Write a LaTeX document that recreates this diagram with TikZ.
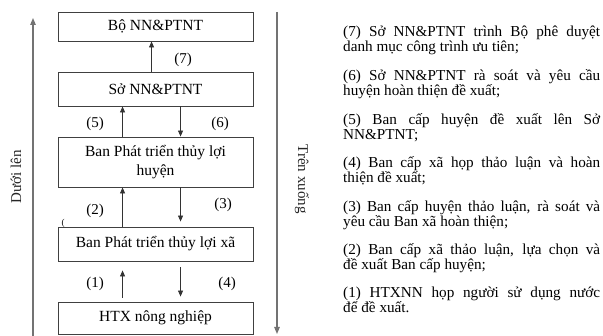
\documentclass[tikz,border=0pt]{standalone}
\usepackage{fontspec}
\setmainfont{Liberation Serif}
\usetikzlibrary{arrows.meta}
\begin{document}
\begin{tikzpicture}[x=1pt,y=-1pt,
  box/.style={draw=black!75, line width=0.9pt, minimum width=195pt, inner sep=0pt,
    font=\fontsize{15.5}{19.5}\selectfont, align=center},
  arr/.style={-{Triangle[length=6pt,width=5pt]}, line width=0.8pt, draw=black!80},
  lbl/.style={font=\fontsize{15}{18}\selectfont, inner sep=0pt},
  side/.style={draw=black!55, line width=1.1pt, -{Triangle[length=7pt,width=5.5pt]}},
  vlab/.style={font=\fontsize{15}{18}\selectfont, inner sep=0pt, text=black!85},
  para/.style={anchor=north west, text width=257pt, align=justify, inner sep=0pt,
    font=\fontsize{15.2}{15}\selectfont}]
\useasboundingbox (0,0) rectangle (603,336);

% boxes
\node[box, minimum height=29pt] (b1) at (155.5,26.5) {Bộ NN\&PTNT};
\node[box, minimum height=34pt] (b2) at (155.5,89) {Sở NN\&PTNT};
\node[box, minimum height=50pt] (b3) at (155.5,162) {Ban Phát triển thủy lợi\\huyện};
\node[box, minimum height=34pt] (b4) at (155.5,244) {Ban Phát triển thủy lợi xã};
\node[box, minimum height=32pt] (b5) at (155.5,318) {HTX nông nghiệp};

% connectors
\draw[arr] ([xshift=94pt]b2.north west) -- ([xshift=94pt]b1.south west);
\draw[arr] ([xshift=65pt]b3.north west) -- ([xshift=65pt]b2.south west);
\draw[arr] ([xshift=123pt]b2.south west) -- ([xshift=123pt]b3.north west);
\draw[arr] ([xshift=65pt]b4.north west) -- ([xshift=65pt]b3.south west);
\draw[arr, shorten >=5pt] ([xshift=123pt]b3.south west) -- ([xshift=123pt]b4.north west);
\draw[arr, shorten <=4pt, shorten >=9pt] ([xshift=65pt]b5.north west) -- ([xshift=65pt]b4.south west);
\draw[arr, shorten <=6pt, shorten >=5pt] ([xshift=123pt]b4.south west) -- ([xshift=123pt]b5.north west);

% step labels
\node[lbl] (l7) at (183,60) {(7)};
\node[lbl] (l5) at (95,124) {(5)};
\node[lbl] (l6) at (220,124) {(6)};
\node[lbl] (l2) at (95,211) {(2)};
\node[lbl] (l3) at (223,205) {(3)};
\node[lbl] (l1) at (95,284) {(1)};
\node[lbl] (l4) at (227,284) {(4)};
\node[font=\fontsize{9}{10}\selectfont, inner sep=0pt] (cur) at (63,223) {(};

% side arrows
\coordinate (lb) at (33,336);
\coordinate (lt) at (33,18);
\coordinate (rt) at (277,12);
\coordinate (rb) at (277,334);
\draw[side] (lb) -- (lt);
\draw[side] (rt) -- (rb);
\node[vlab, rotate=90] (dl) at (16,177) {Dưới lên};
\node[vlab, rotate=-90] (tx) at (302,179) {Trên xuống};

% legend text
\node[para] (p7) at (343,26) {(7) Sở NN\&PTNT trình Bộ phê duyệt\linebreak danh mục công trình ưu tiên;};
\node[para] (p6) at (343,69.5) {(6) Sở NN\&PTNT rà soát và yêu cầu\linebreak huyện hoàn thiện đề xuất;};
\node[para] (p5) at (343,113) {(5) Ban cấp huyện đề xuất lên Sở\linebreak NN\&PTNT;};
\node[para] (p4) at (343,156.5) {(4) Ban cấp xã họp thảo luận và hoàn\linebreak thiện đề xuất;};
\node[para] (p3) at (343,200) {(3) Ban cấp huyện thảo luận, rà soát và\linebreak yêu cầu Ban xã hoàn thiện;};
\node[para] (p2) at (343,243.5) {(2) Ban cấp xã thảo luận, lựa chọn và\linebreak đề xuất Ban cấp huyện;};
\node[para] (p1) at (343,287) {(1) HTXNN họp người sử dụng nước\linebreak để đề xuất.};
\end{tikzpicture}
\end{document}
